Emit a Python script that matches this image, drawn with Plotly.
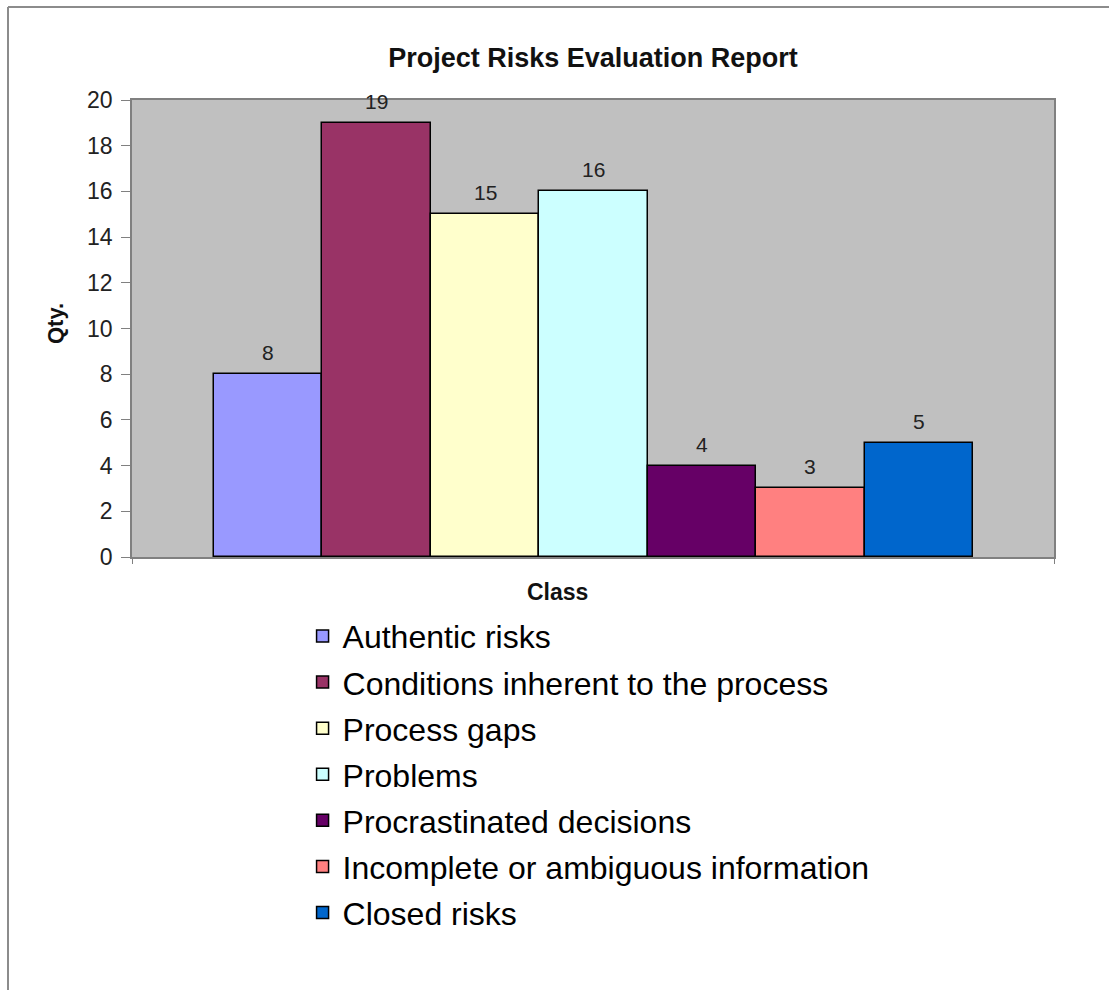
import plotly.graph_objects as go

categories = ["Authentic risks", "Conditions inherent to the process", "Process gaps",
              "Problems", "Procrastinated decisions", "Incomplete or ambiguous information",
              "Closed risks"]
values = [8, 19, 15, 16, 4, 3, 5]
colors = ["#9999FF", "#993366", "#FFFFCC", "#CCFFFF", "#660066", "#FF8080", "#0066CC"]
y_ticks = [0, 2, 4, 6, 8, 10, 12, 14, 16, 18, 20]

FONT = "Liberation Sans, Arial, sans-serif"

fig = go.Figure()
for i, (name, v, c) in enumerate(zip(categories, values, colors)):
    fig.add_trace(go.Bar(
        x=[i], y=[v], name=name, width=1,
        marker=dict(color=c, line=dict(color="#000000", width=1.5)),
        legendgroup=f"g{i}", hoverinfo="y+name",
    ))
    fig.add_annotation(x=i, y=v, text=str(v), showarrow=False, yanchor="bottom",
                       yshift=8, font=dict(family=FONT, size=21, color="#222222"))

n = len(categories)
x0, x1 = -0.5 - 0.756, n - 0.5 + 0.747

PL, PR, PT, PB = 132, 1054, 100, 557
PW, PH = PR - PL, PB - PT

fig.update_layout(
    width=1109, height=990,
    margin=dict(l=PL, r=1109 - PR, t=PT, b=990 - PB),
    paper_bgcolor="#FFFFFF", plot_bgcolor="#C0C0C0",
    barmode="overlay", bargap=0,
    font=dict(family=FONT, color="#000000"),
    title=dict(text="<b>Project Risks Evaluation Report</b>", x=0.5, xref="paper",
               y=1 - 58 / 990, yref="container", xanchor="center", yanchor="middle",
               font=dict(family=FONT, size=27, color="#111111")),
    showlegend=True,
    legend=dict(x=0.185, y=-0.113, xanchor="left", yanchor="top",
                font=dict(family=FONT, size=32, color="#000000"),
                tracegroupgap=1.5, bgcolor="rgba(0,0,0,0)", itemclick=False),
    xaxis=dict(range=[x0, x1], tickvals=[x0, x1], ticktext=["", ""], ticks="outside",
               ticklen=5, tickcolor="#808080", showgrid=False, zeroline=False,
               showline=True, linecolor="#808080", linewidth=1.5, mirror=True),
    yaxis=dict(range=[0, 20], tickvals=y_ticks, ticks="outside", ticklen=9,
               tickcolor="#808080", showgrid=False, zeroline=False,
               showline=True, linecolor="#808080", linewidth=1.5, mirror=True,
               ticklabelstandoff=4,
               tickfont=dict(family=FONT, size=23, color="#222222")),
)

# axis titles
fig.add_annotation(text="<b>Class</b>", xref="paper", yref="paper",
                   x=(557 - PL) / PW, y=(PB - 592) / PH, xanchor="center", yanchor="middle",
                   showarrow=False, font=dict(family=FONT, size=23, color="#111111"))
fig.add_annotation(text="<b>Qty.</b>", xref="paper", yref="paper", textangle=-90,
                   x=(55 - PL) / PW, y=(PB - 324) / PH, xanchor="center", yanchor="middle",
                   showarrow=False, font=dict(family=FONT, size=22, color="#111111"))

# outer frame lines (top and left) of the picture
fig.add_shape(type="line", xref="paper", yref="paper",
              x0=(8 - PL) / PW, x1=(1109 - PL) / PW, y0=(PB - 7) / PH, y1=(PB - 7) / PH,
              line=dict(color="#8C8C8C", width=2))
fig.add_shape(type="line", xref="paper", yref="paper",
              x0=(8 - PL) / PW, x1=(8 - PL) / PW, y0=(PB - 7) / PH, y1=(PB - 990) / PH,
              line=dict(color="#8C8C8C", width=2))

fig.write_html("out.html")
